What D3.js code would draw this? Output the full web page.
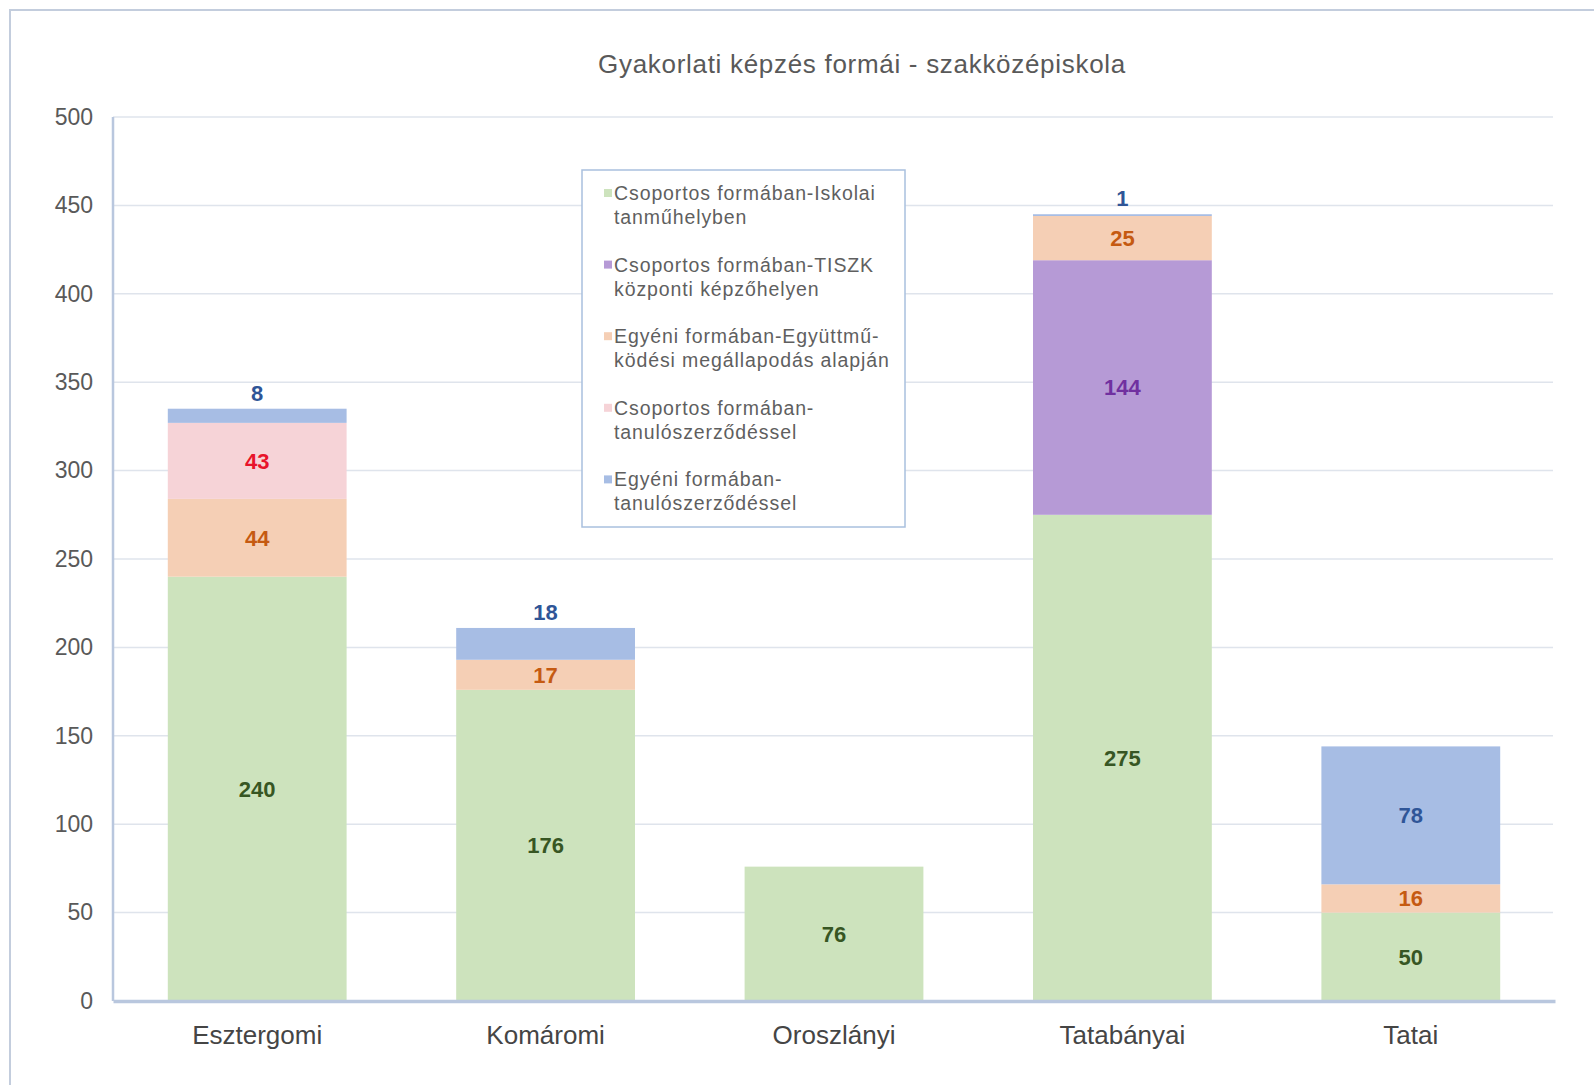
<!DOCTYPE html>
<html>
<head>
<meta charset="utf-8">
<script src="https://cdn.jsdelivr.net/npm/d3@7/dist/d3.min.js"></script>
<style>
  body { margin: 0; background: #fff; }
  text { font-family: "Liberation Sans", Arial, sans-serif; }
</style>
</head>
<body>
<script>
// chart data
var categories = ["Esztergomi", "Komáromi", "Oroszlányi", "Tatabányai", "Tatai"];
var iskolai    = [240, 176, 76, 275, 50];
var tiszk      = [0, 0, 0, 144, 0];
var egyuttmuk  = [44, 17, 0, 25, 16];
var csopTanulo = [43, 0, 0, 0, 0];
var egyTanulo  = [8, 18, 0, 1, 78];
var yTicks = [0, 50, 100, 150, 200, 250, 300, 350, 400, 450, 500];

var series = [
    { key: "iskolai", values: iskolai, fill: "#cde3bd", label: "#375623",
      name: ["Csoportos formában-Iskolai", "tanműhelyben"] },
    { key: "tiszk", values: tiszk, fill: "#b69ad6", label: "#7030a0",
      name: ["Csoportos formában-TISZK", "központi képzőhelyen"] },
    { key: "egyuttmuk", values: egyuttmuk, fill: "#f5cfb5", label: "#c55a11",
      name: ["Egyéni formában-Együttmű-", "ködési megállapodás alapján"] },
    { key: "csopTanulo", values: csopTanulo, fill: "#f6d3d7", label: "#e8132a",
      name: ["Csoportos formában-", "tanulószerződéssel"] },
    { key: "egyTanulo", values: egyTanulo, fill: "#a7bde4", label: "#2f5597",
      name: ["Egyéni formában-", "tanulószerződéssel"] }
];

function init() {
    var W = 1594, H = 1085;
    var left = 113, right = 1555, top = 117, bottom = 1001;

    // rows for d3.stack
    var rows = categories.map(function(c, i) {
        var r = { cat: c };
        series.forEach(function(s) { r[s.key] = s.values[i]; });
        return r;
    });
    var stacked = d3.stack().keys(series.map(function(s) { return s.key; }))(rows);

    var svg = d3.select("body").append("svg")
        .attr("width", W)
        .attr("height", H);

    // outer frame (top and left edges visible)
    svg.append("path")
        .attr("d", "M10," + H + " L10,10 L" + W + ",10")
        .attr("fill", "none")
        .attr("stroke", "#c3cddd")
        .attr("stroke-width", 2);

    var x = d3.scaleBand()
        .domain(categories)
        .range([left, right])
        .paddingInner(0.38)
        .paddingOuter(0.19);

    var y = d3.scaleLinear()
        .domain([0, 500])
        .range([bottom, top]);

    // title
    svg.append("text")
        .attr("x", 862)
        .attr("y", 73)
        .attr("text-anchor", "middle")
        .attr("font-size", 26)
        .attr("letter-spacing", 0.7)
        .attr("fill", "#595959")
        .text("Gyakorlati képzés formái - szakközépiskola");

    // gridlines
    svg.append("g")
        .selectAll("line")
        .data(yTicks.filter(function(t) { return t > 0; }))
        .enter().append("line")
        .attr("x1", left)
        .attr("x2", right - 2)
        .attr("y1", function(d) { return y(d); })
        .attr("y2", function(d) { return y(d); })
        .attr("stroke", "#dfe4ec")
        .attr("stroke-width", 1.5);

    // y axis labels
    var yAxis = d3.axisLeft(y).tickValues(yTicks).tickSize(0).tickPadding(20);
    var gy = svg.append("g")
        .attr("transform", "translate(" + left + ",0)")
        .call(yAxis);
    gy.select(".domain").remove();
    gy.selectAll("text")
        .attr("font-size", 23)
        .attr("fill", "#595959")
        .style("font-family", "'Liberation Sans', Arial, sans-serif");

    // bars
    var layers = svg.append("g")
        .selectAll("g")
        .data(stacked)
        .enter().append("g")
        .attr("fill", function(d, i) { return series[i].fill; });

    layers.selectAll("rect")
        .data(function(d) { return d; })
        .enter().append("rect")
        .attr("x", function(d) { return x(d.data.cat); })
        .attr("width", x.bandwidth())
        .attr("y", function(d) { return y(d[1]); })
        .attr("height", function(d) { return y(d[0]) - y(d[1]); });

    // axis lines
    svg.append("line")
        .attr("x1", left).attr("x2", left)
        .attr("y1", top).attr("y2", bottom)
        .attr("stroke", "#b9c7de")
        .attr("stroke-width", 2.5);

    var xAxis = d3.axisBottom(x).tickSize(0).tickPadding(25);
    var gx = svg.append("g")
        .attr("transform", "translate(0," + bottom + ")")
        .call(xAxis);
    gx.select(".domain")
        .attr("stroke", "#b9c7de")
        .attr("stroke-width", 3.5);
    gx.selectAll("text")
        .attr("font-size", 26)
        .attr("fill", "#454545")
        .style("font-family", "'Liberation Sans', Arial, sans-serif");

    // data labels
    stacked.forEach(function(layer, si) {
        layer.forEach(function(d, ci) {
            var v = d[1] - d[0];
            if (v <= 0) return;
            var isTop = si === stacked.length - 1;
            var cy = (y(d[0]) + y(d[1])) / 2;
            if (isTop && v < 20) cy = y(d[1]) - 16; // small top pieces sit above the bar
            svg.append("text")
                .attr("x", x(d.data.cat) + x.bandwidth() / 2)
                .attr("y", cy)
                .attr("dy", "0.36em")
                .attr("text-anchor", "middle")
                .attr("font-size", 22)
                .attr("font-weight", "bold")
                .attr("fill", series[si].label)
                .text(v);
        });
    });

    // legend
    var lg = svg.append("g");
    lg.append("rect")
        .attr("x", 582).attr("y", 170)
        .attr("width", 323).attr("height", 357)
        .attr("fill", "#fff")
        .attr("stroke", "#a9c0de")
        .attr("stroke-width", 1.5);

    var item = lg.selectAll("g.item")
        .data(series)
        .enter().append("g")
        .attr("class", "item")
        .attr("transform", function(d, i) { return "translate(604," + (193 + i * 71.6) + ")"; });

    item.append("rect")
        .attr("x", 0).attr("y", -4)
        .attr("width", 8).attr("height", 8)
        .attr("fill", function(d) { return d.fill; });

    item.append("text")
        .attr("x", 10)
        .attr("font-size", 19.5)
        .attr("letter-spacing", 0.9)
        .attr("fill", "#5f5f5f")
        .selectAll("tspan")
        .data(function(d) { return d.name; })
        .enter().append("tspan")
        .attr("x", 10)
        .attr("y", function(d, i) { return i * 24; })
        .attr("dy", "0.36em")
        .text(function(d) { return d; });
}

window.onload = init;
</script>
</body>
</html>
